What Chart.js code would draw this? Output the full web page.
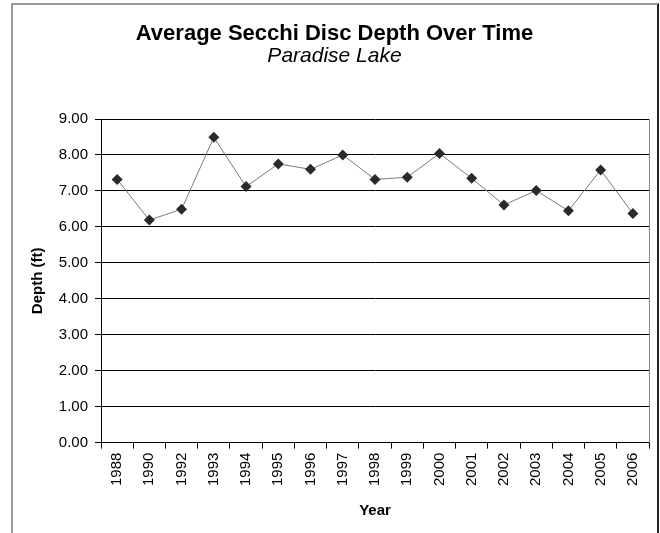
<!DOCTYPE html>
<html>
<head>
<meta charset="utf-8">
<script src="https://cdn.jsdelivr.net/npm/chart.js@4.4.0/dist/chart.umd.min.js"></script>
<style>
  html, body { margin: 0; padding: 0; background: #fff; overflow: hidden; }
  #wrap { position: relative; width: 660px; height: 533px; }
  #frame { position: absolute; left: 11px; top: 3px; width: 648px; height: 600px;
           border-left: 2px solid #9a9a9a; border-top: 2px solid #9a9a9a; border-right: 2px solid #222; box-sizing: border-box; }
  canvas { position: absolute; left: 0; top: 0; }
</style>
</head>
<body>
<div id="wrap">
  <div id="frame"></div>
  <canvas id="c" width="660" height="533"></canvas>
</div>
<script>
const chartTitle = "Average Secchi Disc Depth Over Time";
const chartSubtitle = "Paradise Lake";
const xAxisTitle = "Year";
const yAxisTitle = "Depth (ft)";
const years = ["1988","1990","1992","1993","1994","1995","1996","1997","1998","1999","2000","2001","2002","2003","2004","2005","2006"];
const depths = [7.32, 6.19, 6.49, 8.49, 7.12, 7.75, 7.60, 8.00, 7.32, 7.38, 8.04, 7.35, 6.61, 7.01, 6.45, 7.58, 6.37];
const yMin = 0, yMax = 9, yStep = 1;

const FONT = "'Liberation Sans', Arial, sans-serif";

const plotBorder = {
  id: 'plotBorder',
  afterDraw(chart) {
    const {ctx, chartArea: a} = chart;
    ctx.save();
    ctx.strokeStyle = '#8a8a8a';
    ctx.lineWidth = 1;
    ctx.beginPath();
    ctx.moveTo(Math.round(a.right) + 0.5, a.top);
    ctx.lineTo(Math.round(a.right) + 0.5, a.bottom);
    ctx.stroke();
    ctx.restore();
  }
};

new Chart(document.getElementById('c'), {
  type: 'line',
  data: {
    labels: years,
    datasets: [{
      data: depths,
      borderColor: '#7a7a7a',
      borderWidth: 1,
      pointStyle: 'rectRot',
      pointRadius: 5.5,
      pointBackgroundColor: '#2a2a2a',
      pointBorderColor: '#2a2a2a',
      pointBorderWidth: 0,
      tension: 0,
      fill: false
    }]
  },
  options: {
    responsive: false,
    animation: false,
    events: [],
    layout: { padding: { left: 20, right: 11, top: 11, bottom: 13 } },
    plugins: {
      legend: { display: false },
      tooltip: { enabled: false },
      title: {
        display: true, text: chartTitle, color: '#000',
        font: { family: FONT, size: 22, weight: 'bold', lineHeight: 1 },
        padding: { top: 12, bottom: 0 }
      },
      subtitle: {
        display: true, text: chartSubtitle, color: '#000',
        font: { family: FONT, size: 21, style: 'italic', weight: 'normal', lineHeight: 1 },
        padding: { top: 1, bottom: 52 }
      }
    },
    scales: {
      x: {
        offset: true,
        grid: { offset: true, drawOnChartArea: false, tickLength: 6, color: '#000', tickColor: '#000' },
        border: { color: '#000', width: 1 },
        ticks: { color: '#000', font: { family: FONT, size: 15 }, maxRotation: 90, minRotation: 90, padding: 4, autoSkip: false },
        title: { display: true, text: xAxisTitle, color: '#000', font: { family: FONT, size: 15, weight: 'bold' }, padding: { top: 12, bottom: 0 } }
      },
      y: {
        min: yMin, max: yMax,
        afterFit(scale) { scale.width = 81; },
        grid: { color: '#000', tickColor: '#000', tickLength: 6, lineWidth: 1 },
        border: { color: '#000', width: 1 },
        ticks: { stepSize: yStep, color: '#000', font: { family: FONT, size: 15 }, padding: 7,
                 callback: v => Number(v).toFixed(2) },
        title: { display: true, text: yAxisTitle, color: '#000', font: { family: FONT, size: 15, weight: 'bold' }, padding: { top: 9, bottom: 0 } }
      }
    }
  },
  plugins: [plotBorder]
});
</script>
</body>
</html>
